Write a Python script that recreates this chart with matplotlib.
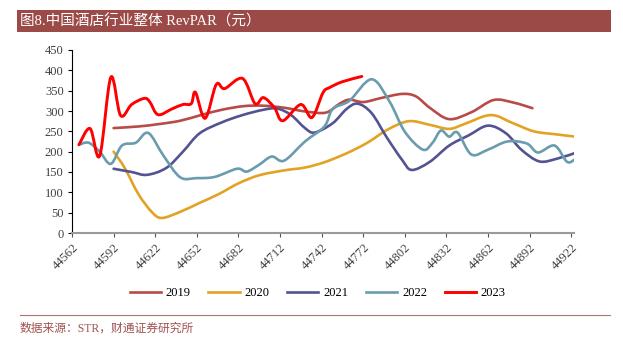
import numpy as np
import matplotlib
matplotlib.use("Agg")
import matplotlib.pyplot as plt
from matplotlib.path import Path
from matplotlib.patches import PathPatch, Rectangle
from matplotlib.lines import Line2D

plt.rcParams['font.family'] = ['Liberation Serif', 'Noto Sans CJK SC']

# data (x = excel date serials, y = RevPAR)
days_2019 = [44592, 44610, 44625, 44640, 44655, 44670, 44686, 44700, 44715, 44730,
             44745, 44755, 44762, 44772, 44785, 44800, 44810, 44820, 44834, 44850,
             44866, 44880, 44894]
vals_2019 = [258, 262, 268, 276, 290, 303, 312, 313, 308, 299,
             296, 318, 328, 322, 332, 342, 336, 308, 280, 297,
             327, 321, 307]

days_2020 = [44592, 44600, 44610, 44620, 44627, 44640, 44654, 44668, 44682, 44697,
             44715, 44730, 44744, 44760, 44775, 44790, 44805, 44820, 44834, 44845,
             44864, 44880, 44895, 44910, 44925]
vals_2020 = [200, 160, 95, 50, 37, 52, 74, 96, 122, 142,
             154, 161, 174, 196, 222, 255, 275, 266, 256, 268,
             290, 270, 250, 243, 237]

days_2021 = [44592, 44605, 44616, 44630, 44642, 44654, 44670, 44685, 44700, 44710,
             44720, 44730, 44737, 44750, 44760, 44768, 44778, 44789, 44800, 44807,
             44820, 44834, 44848, 44862, 44875, 44886, 44899, 44912, 44925]
vals_2021 = [158, 150, 143, 160, 200, 245, 272, 290, 303, 306,
             290, 258, 247, 270, 305, 318, 295, 235, 180, 155,
             175, 215, 240, 264, 245, 205, 176, 183, 197]

days_2022 = [44567, 44574, 44582, 44590, 44598, 44608, 44617, 44628, 44640, 44652,
             44665, 44681, 44688, 44697, 44706, 44715, 44730, 44744, 44750, 44762,
             44778, 44791, 44802, 44815, 44822, 44828, 44834, 44840, 44850, 44862,
             44876, 44890, 44898, 44910, 44919, 44925]
vals_2022 = [217, 222, 200, 170, 215, 222, 246, 190, 137, 135,
             138, 158, 151, 168, 188, 178, 225, 262, 305, 325,
             378, 323, 249, 205, 222, 252, 237, 247, 193, 205,
             225, 220, 198, 215, 175, 182]

days_2023 = [44567, 44575, 44582, 44590, 44597, 44605, 44614, 44618, 44624, 44634,
             44642, 44648, 44651, 44658, 44666, 44672, 44685, 44694, 44700, 44708,
             44714, 44727, 44735, 44743, 44748, 44757, 44771]
vals_2023 = [217, 257, 190, 383, 289, 316, 331, 323, 291, 305,
             316, 318, 346, 282, 365, 355, 380, 318, 333, 308,
             276, 316, 284, 345, 358, 372, 385]

series = [("2019", days_2019, vals_2019, "#B84B48", 1.9),
          ("2020", days_2020, vals_2020, "#E2A224", 1.9),
          ("2021", days_2021, vals_2021, "#545392", 1.9),
          ("2022", days_2022, vals_2022, "#6A9CAE", 1.9),
          ("2023", days_2023, vals_2023, "#FF0000", 2.1)]

x_ticks = list(range(44562, 44923, 30))
y_ticks = list(range(0, 451, 50))


def smooth_path(xs, ys):
    # excel-style smoothed line: catmull-rom segments drawn as cubic beziers
    p = np.column_stack([xs, ys]).astype(float)
    n = len(p)
    verts = [p[0]]
    codes = [Path.MOVETO]
    for i in range(n - 1):
        p0 = p[i - 1] if i > 0 else p[i]
        p1 = p[i]
        p2 = p[i + 1]
        p3 = p[i + 2] if i + 2 < n else p[i + 1]
        c1 = p1 + (p2 - p0) / 6.0
        c2 = p2 - (p3 - p1) / 6.0
        verts += [c1, c2, p2]
        codes += [Path.CURVE4] * 3
    return Path(verts, codes)


fig = plt.figure(figsize=(6.23, 3.42), dpi=100)
ax = fig.add_axes([72 / 623, 109 / 342, 502 / 623, 183 / 342])

handles = []
for name, xs, ys, col, lw in series:
    patch = PathPatch(smooth_path(xs, ys), facecolor='none', edgecolor=col,
                      lw=lw, capstyle='round', joinstyle='round')
    ax.add_patch(patch)
    handles.append(Line2D([], [], color=col, lw=lw, label=name))

ax.set_xlim(44562, 44924)
ax.set_ylim(0, 450)
ax.set_xticks(x_ticks)
ax.set_xticklabels([str(t) for t in x_ticks], rotation=45, ha='right',
                   rotation_mode='anchor', fontsize=9, color='#404040')
ax.set_yticks(y_ticks)
ax.set_yticklabels([str(t) for t in y_ticks], fontsize=9, color='#404040')
ax.tick_params(axis='y', direction='out', length=3, width=0.8, pad=3)
ax.tick_params(axis='x', direction='out', length=3, width=0.8, color='#555555', pad=3)

for s in ['top', 'right']:
    ax.spines[s].set_visible(False)
ax.spines['left'].set_color('black')
ax.spines['left'].set_linewidth(0.8)
ax.spines['bottom'].set_color('#9a9a9a')
ax.spines['bottom'].set_linewidth(1.5)

fig.legend(handles=handles, loc='center', bbox_to_anchor=(0.51, 0.143), ncol=5,
           frameon=False, fontsize=9, handlelength=2.5, columnspacing=1.4,
           handletextpad=0.4)

# title bar
fig.patches.append(Rectangle((17 / 623, 310 / 342), 594 / 623, 22 / 342,
                             transform=fig.transFigure, facecolor='#9C4A47',
                             edgecolor='none', zorder=0))
fig.text(20 / 623, 321 / 342, "图8.中国酒店行业整体 RevPAR（元）", color='white',
         fontsize=10.5, va='center', ha='left')

# source line and note
fig.add_artist(Line2D([20 / 623, 610 / 623], [27 / 342, 27 / 342],
                      transform=fig.transFigure, color='#B07370', lw=0.8))
fig.text(20 / 623, 7 / 342, "数据来源：STR，财通证券研究所", color='#A0524F',
         fontsize=8.5, va='bottom', ha='left')

fig.savefig("out.png", dpi=100)
